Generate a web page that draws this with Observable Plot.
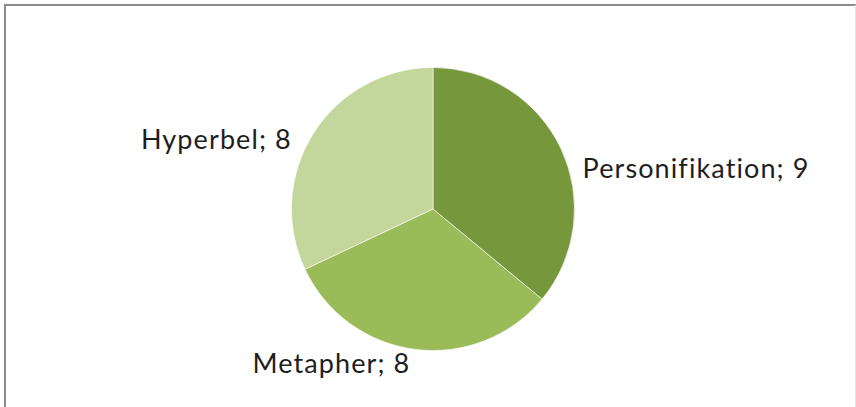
<!DOCTYPE html>
<html>
<head>
<meta charset="utf-8">
<script src="https://cdn.jsdelivr.net/npm/d3@7"></script>
<script src="https://cdn.jsdelivr.net/npm/@observablehq/plot@0.6"></script>
<style>
  html, body { margin: 0; padding: 0; background: #fff; }
  #wrap { position: relative; width: 856px; height: 407px; overflow: hidden; }
  #frame { position: absolute; left: 4px; top: 4px; right: 0; bottom: -4px;
           border-top: 2.5px solid #8c8c8c; border-left: 2.5px solid #8c8c8c;
           border-right: 1px solid #e6e6e6; pointer-events: none; }
  svg { display: block; }
</style>
</head>
<body>
<div id="wrap"><div id="chart"></div><div id="frame"></div></div>
<script>
// Data
const categories = ["Personifikation", "Metapher", "Hyperbel"];
const values = [9, 8, 8];
const colors = ["#77973D", "#9BBB59", "#C3D69B"];

const data = categories.map((c, i) => ({category: c, value: values[i]}));

// layout (pixels)
const W = 856, H = 407, CX = 433, CY = 209, R = 141.5;
// label nudges (layout only)
const nudge = {Personifikation: [8, 36], Hyperbel: [-9, 24], Metapher: [-3, 9]};

function pieMark(index, scales, vals, dims) {
  const cx = scales.x(0), cy = scales.y(0);
  const r = scales.x(1) - scales.x(0);
  const arcs = d3.pie().sort(null).value(d => d.value)(data);
  const arc = d3.arc().innerRadius(0).outerRadius(r);
  const g = d3.create("svg:g");
  g.selectAll("path").data(arcs).join("path")
    .attr("transform", `translate(${cx},${cy})`)
    .attr("d", arc)
    .attr("fill", d => scales.color(d.data.category))
    .attr("stroke", "#ffffff")
    .attr("stroke-width", 0.6);
  g.selectAll("text").data(arcs).join("text")
    .attr("x", d => {
      const a = (d.startAngle + d.endAngle) / 2;
      return cx + (r + 15) * Math.sin(a) + nudge[d.data.category][0];
    })
    .attr("y", d => {
      const a = (d.startAngle + d.endAngle) / 2;
      return cy - (r + 15) * Math.cos(a) + nudge[d.data.category][1];
    })
    .attr("text-anchor", d => Math.sin((d.startAngle + d.endAngle) / 2) < 0 ? "end" : "start")
    .attr("font-family", "Lato, 'Open Sans', sans-serif")
    .attr("font-size", 27)
    .attr("letter-spacing", 1.1)
    .style("font-variant-ligatures", "none")
    .attr("fill", "#1e1e1e")
    .text(d => `${d.data.category}; ${d.data.value}`);
  return g.node();
}

const plot = Plot.plot({
  width: W,
  height: H,
  margin: 0,
  x: {domain: [-CX / R, (W - CX) / R], range: [0, W], axis: null},
  y: {domain: [-(H - CY) / R, CY / R], range: [H, 0], axis: null},
  color: {domain: categories, range: colors},
  marks: [pieMark]
});
document.getElementById("chart").appendChild(plot);
</script>
</body>
</html>
